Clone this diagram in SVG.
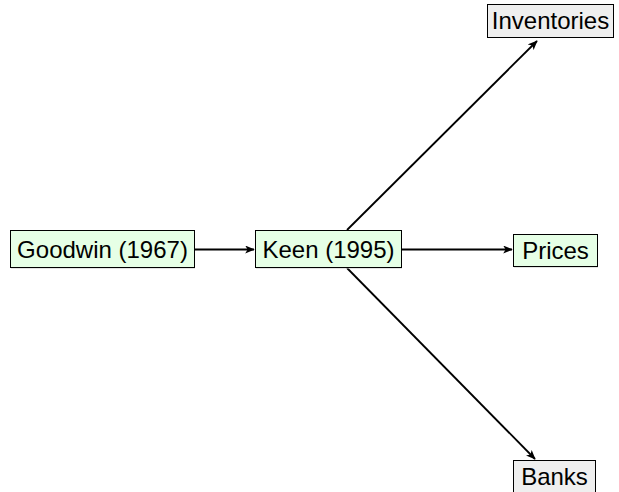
<svg xmlns="http://www.w3.org/2000/svg" width="619" height="492" viewBox="0 0 619 492">
<defs>
<style>
.box{stroke:#000;stroke-width:1}
.g{fill:#e6ffe6}
.w{fill:#efefef}
.sh{fill:#c8c8c8}
.t{font-family:"Liberation Sans",Arial,sans-serif;font-size:24px;fill:#000;text-anchor:middle}
.c{stroke:#000;stroke-width:1.8;fill:none;marker-end:url(#ah)}
</style>
<marker id="ah" viewBox="0 0 12 10" refX="11" refY="5" markerWidth="10" markerHeight="8" markerUnits="userSpaceOnUse" orient="auto">
<path d="M0,0 L12,5 L0,10 L3,5 Z" fill="#000"/>
</marker>
</defs>
<rect width="619" height="492" fill="#fff"/>
<g id="connectors">
<line class="c" x1="194" y1="249.5" x2="254" y2="249.5"/>
<line class="c" x1="401" y1="249.5" x2="512" y2="249.5"/>
<line class="c" x1="347" y1="230" x2="537" y2="41"/>
<line class="c" x1="347" y1="268" x2="535" y2="459"/>
</g>
<g id="goodwin">
<rect class="sh" x="11" y="231" width="184" height="37.5"/>
<rect class="box g" x="10.5" y="230.5" width="184" height="37"/>
<text class="t" x="102.5" y="257.5">Goodwin (1967)</text>
</g>
<g id="keen">
<rect class="sh" x="256" y="231" width="146" height="37.5"/>
<rect class="box g" x="255.5" y="230.5" width="146" height="37"/>
<text class="t" x="328.5" y="257.5">Keen (1995)</text>
</g>
<g id="prices">
<rect class="sh" x="514" y="235" width="84" height="32.5"/>
<rect class="box g" x="513.5" y="234.5" width="84" height="32"/>
<text class="t" x="555.5" y="258.5">Prices</text>
</g>
<g id="inventories">
<rect class="sh" x="488" y="5" width="126" height="33"/>
<rect class="box w" x="487.5" y="4.5" width="126" height="33"/>
<text class="t" x="550.5" y="29">Inventories</text>
</g>
<g id="banks">
<rect class="sh" x="514" y="461" width="82" height="32"/>
<rect class="box w" x="513.5" y="460.5" width="82" height="33"/>
<text class="t" x="554.5" y="485">Banks</text>
</g>
</svg>
